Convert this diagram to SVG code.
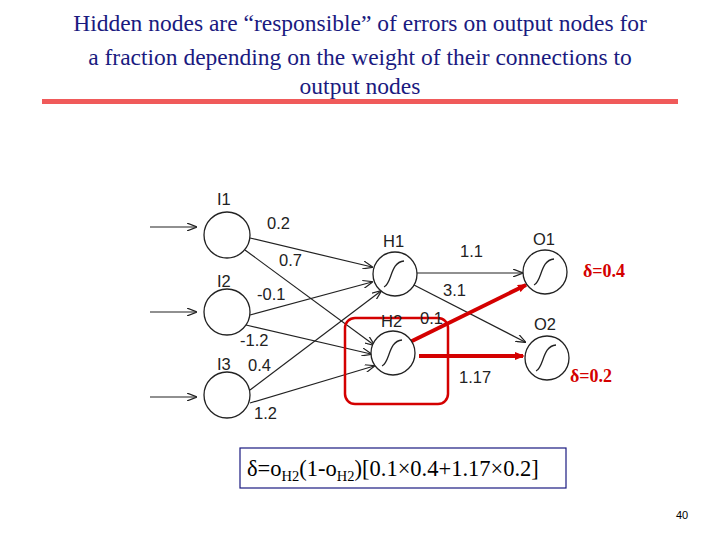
<svg xmlns="http://www.w3.org/2000/svg" width="720" height="540" viewBox="0 0 720 540">
<style>
.t{font-family:"Liberation Serif",serif;font-size:23.5px;fill:#1a1a80;text-anchor:middle}
.l{font-family:"Liberation Sans",sans-serif;font-size:16.5px;fill:#222}
.n{fill:#fff;stroke:#222;stroke-width:1.3}
.e{stroke:#222;stroke-width:1.2;fill:none;marker-end:url(#a)}
.r{stroke:#d40000;stroke-width:4;fill:none}
.d{font-family:"Liberation Serif",serif;font-size:18px;font-weight:bold;fill:#d40000}
.s{fill:none;stroke:#222;stroke-width:1.3}
</style>
<defs>
<marker id="a" markerWidth="10" markerHeight="8" refX="9" refY="4" orient="auto" markerUnits="userSpaceOnUse"><path d="M0,0 L10,4 L0,8" fill="none" stroke="#222" stroke-width="1.2"/></marker>
<marker id="ar" markerWidth="10" markerHeight="8" refX="8" refY="4" orient="auto" markerUnits="userSpaceOnUse"><path d="M0,0 L10,4 L0,8z" fill="#d40000"/></marker>
</defs>
<rect width="720" height="540" fill="#fff"/>
<g id="title">
<text class="t" x="360" y="31">Hidden nodes are “responsible” of errors on output nodes for</text>
<text class="t" x="360" y="65">a fraction depending on the weight of their connections to</text>
<text class="t" x="360" y="94">output nodes</text>
<rect x="42" y="99" width="636" height="5" fill="#f05a5a"/>
</g>
<g id="connectors">
<path class="e" d="M150,227 H196"/>
<path class="e" d="M150,312 H196"/>
<path class="e" d="M150,397 H196"/>
<path class="e" d="M250,238 L372,267"/>
<path class="e" d="M245,250 L374,345"/>
<path class="e" d="M250,315 L372,282"/>
<path class="e" d="M246,325 L371,354"/>
<path class="e" d="M250,390 L381,291"/>
<path class="e" d="M250,403 L374,366"/>
<path class="e" d="M417,273 L522,273"/>
<path class="e" d="M414,285 L525,342"/>
<path class="r" d="M410,342 L526,285" marker-end="url(#ar)"/>
<path class="r" d="M419,356 L523,356" marker-end="url(#ar)"/>
</g>
<g id="box"><rect x="345" y="318" width="103" height="86" rx="10" fill="none" stroke="#d40000" stroke-width="2.5"/></g>
<g id="I1"><circle class="n" cx="227" cy="235" r="23"/><text class="l" x="217" y="205">I1</text></g>
<g id="I2"><circle class="n" cx="227" cy="312" r="23"/><text class="l" x="217" y="287">I2</text></g>
<g id="I3"><circle class="n" cx="227" cy="395" r="23"/><text class="l" x="217" y="370">I3</text></g>
<g id="H1"><circle class="n" cx="395" cy="274" r="22"/><path class="s" d="M384,287 C392,284 390,262 404,261"/><text class="l" x="383" y="247">H1</text></g>
<g id="H2"><circle class="n" cx="393" cy="353" r="22"/><path class="s" d="M382,366 C390,363 388,341 402,340"/><text class="l" x="381" y="327">H2</text></g>
<g id="O1"><circle class="n" cx="545" cy="272" r="22"/><path class="s" d="M534,285 C542,282 540,260 554,259"/><text class="l" x="533" y="245">O1</text><text class="d" x="583" y="277">δ=0.4</text></g>
<g id="O2"><circle class="n" cx="547" cy="358" r="22"/><path class="s" d="M536,371 C544,368 542,346 556,345"/><text class="l" x="534" y="330">O2</text><text class="d" x="570" y="382">δ=0.2</text></g>
<g id="weights">
<text class="l" x="267" y="229">0.2</text>
<text class="l" x="279" y="266">0.7</text>
<text class="l" x="257" y="300">-0.1</text>
<text class="l" x="240" y="346">-1.2</text>
<text class="l" x="248" y="371">0.4</text>
<text class="l" x="254" y="419">1.2</text>
<text class="l" x="460" y="257">1.1</text>
<text class="l" x="443" y="296">3.1</text>
<text class="l" x="420" y="324">0.1</text>
<text class="l" x="459" y="383">1.17</text>
</g>
<g id="formula">
<rect x="240" y="448" width="326" height="40" fill="#fff" stroke="#1a1a80" stroke-width="1.2"/>
<text font-family="Liberation Serif,serif" font-size="22.5" fill="#000" x="247" y="476">δ=o<tspan font-size="14.5" dy="5">H2</tspan><tspan dy="-5">(1-o</tspan><tspan font-size="14.5" dy="5">H2</tspan><tspan dy="-5">)[0.1×0.4+1.17×0.2]</tspan></text>
</g>
<text font-family="Liberation Sans,sans-serif" font-size="11" x="676" y="519">40</text>
</svg>
